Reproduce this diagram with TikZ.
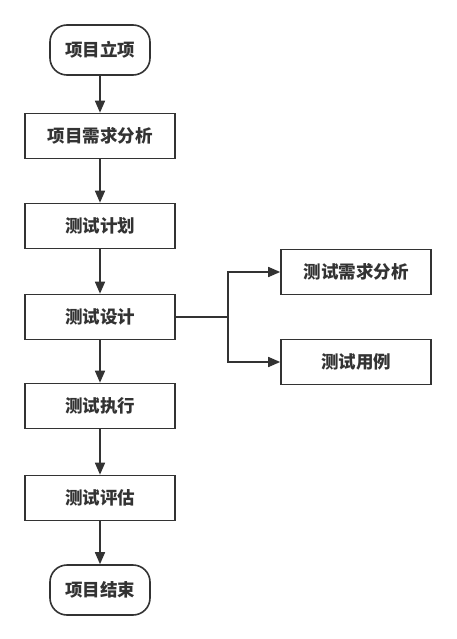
\documentclass[tikz,border=0pt]{standalone}
\usepackage{fontspec}
\setmainfont{Noto Sans CJK SC}
\usetikzlibrary{arrows.meta,positioning}
\definecolor{ink}{HTML}{333333}
\tikzset{
  x=1pt,y=-1pt,
  base/.style={draw=ink,line width=1.6pt,text=ink,font=\fontsize{17.5}{20}\selectfont\bfseries,inner sep=0pt,anchor=center},
  procbox/.style={base,minimum width=150pt,minimum height=45pt},
  termbox/.style={base,rounded corners=17pt,minimum width=100pt,minimum height=50pt},
  conn/.style={draw=ink,line width=1.6pt,-{Triangle[length=12pt,width=10pt]}},
  plainconn/.style={draw=ink,line width=1.6pt}
}
\begin{document}
\begin{tikzpicture}
\useasboundingbox (0,0) rectangle (456,639);
\node[termbox] (start) at (100,50) {项目立项};
\node[procbox] (req) at (100,136) {项目需求分析};
\node[procbox] (plan) at (100,226) {测试计划};
\node[procbox] (design) at (100,317) {测试设计};
\node[procbox] (exec) at (100,406) {测试执行};
\node[procbox] (eval) at (100,498) {测试评估};
\node[termbox] (finish) at (100,590) {项目结束};
\node[procbox] (treq) at (356,272) {测试需求分析};
\node[procbox] (tcase) at (356,362) {测试用例};
\coordinate (split) at (228,317);
\draw[conn] (start) -- (req);
\draw[conn] (req) -- (plan);
\draw[conn] (plan) -- (design);
\draw[conn] (design) -- (exec);
\draw[conn] (exec) -- (eval);
\draw[conn] (eval) -- (finish);
\draw[plainconn] (design.east) -- (split);
\draw[conn] (split) |- (treq.west);
\draw[conn] (split) |- (tcase.west);
\end{tikzpicture}
\end{document}
